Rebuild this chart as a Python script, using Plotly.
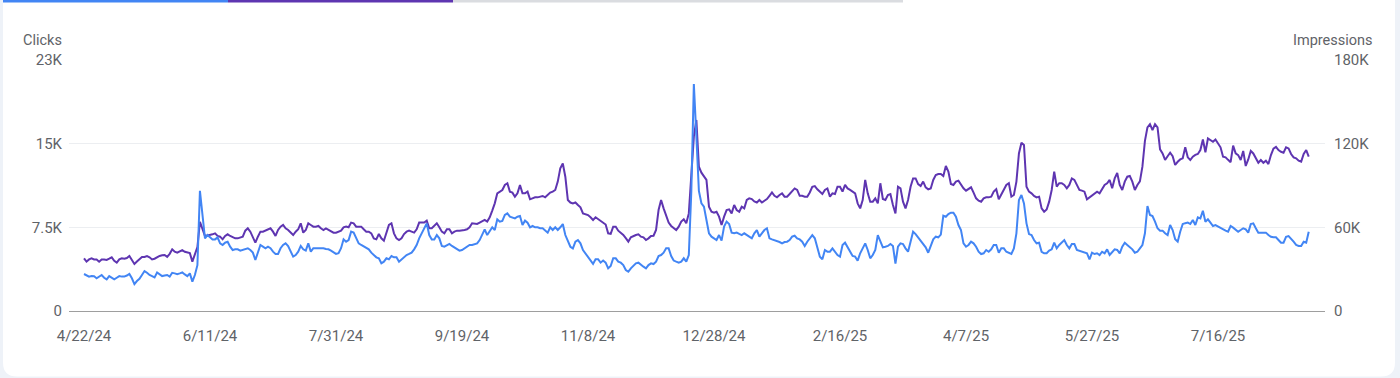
import pandas as pd
import plotly.graph_objects as go

start_date = "2024-04-22"

clicks = [
    3390, 3250, 3150, 3200, 3180, 3000, 3150, 3300, 3050, 2900,
    3200, 3050, 2900, 3050, 3200, 3150, 3150, 3250, 3400, 3000,
    2470, 2750, 2950, 3300, 3660, 3500, 3300, 3200, 3080, 3530,
    3350, 3200, 3250, 3300, 3150, 3500, 3450, 3380, 3450, 3530,
    3350, 3200, 3450, 2690, 3300, 4200, 11020, 8950, 6660, 6960,
    6740, 6560, 6560, 6740, 6200, 6050, 6260, 6350, 5900, 5590,
    5650, 5650, 5530, 5590, 5710, 5750, 5590, 5350, 4670, 5440,
    6050, 5900, 5750, 5900, 5750, 5440, 5230, 5230, 5750, 6050,
    6200, 5960, 5530, 4980, 5130, 5440, 5960, 5650, 5530, 6200,
    5440, 5750, 5750, 5750, 5750, 5750, 5680, 5650, 5530, 5350,
    5230, 5290, 5750, 6570, 6350, 6500, 7270, 7180, 6660, 6200,
    6050, 5900, 5810, 5650, 5350, 5130, 4920, 4830, 4370, 4520,
    4830, 4740, 5040, 4920, 4920, 4520, 4740, 4980, 5130, 5230,
    5350, 5650, 6050, 6660, 7120, 7670, 8030, 6960, 6560, 6560,
    6960, 6660, 5960, 5890, 6050, 6140, 5960, 5840, 5650, 5530,
    5590, 5740, 5960, 6050, 6050, 6140, 6200, 6500, 6960, 7480,
    6960, 7270, 7670, 7420, 8400, 8190, 8250, 8800, 8950, 8640,
    8580, 8490, 8640, 8700, 7880, 8280, 8090, 7670, 7790, 7670,
    7670, 7580, 7580, 7360, 7180, 7670, 7420, 7670, 7420, 7670,
    7970, 6960, 6350, 5890, 5740, 6350, 6500, 6200, 5590, 5290,
    4980, 4670, 4310, 4740, 4740, 4430, 4620, 4430, 3910, 4120,
    4830, 4830, 4520, 4430, 4210, 3760, 3600, 3910, 4120, 4370,
    4430, 4210, 4060, 3910, 4210, 4370, 4300, 4520, 5040, 5130,
    5340, 5740, 5740, 5040, 4620, 4520, 4430, 4520, 4830, 4520,
    5130, 11000, 20800, 16000, 11000, 9870, 9560, 8340, 7120, 6810,
    6660, 6500, 6960, 6450, 7730, 8190, 7970, 7180, 7120, 7180,
    7060, 6960, 7120, 6960, 6810, 6660, 7120, 7420, 6810, 7120,
    7420, 7580, 6660, 6560, 6500, 6410, 6320, 6200, 6320, 6350,
    6500, 6810, 6900, 6660, 6560, 6350, 5960, 6350, 6660, 6960,
    6660, 5890, 4980, 4740, 5590, 5440, 5440, 5740, 5440, 5130,
    4980, 6050, 6260, 5840, 5440, 5040, 4980, 4610, 5290, 5740,
    6200, 5590, 4830, 5130, 5590, 6960, 6350, 5840, 5890, 5960,
    6140, 5960, 4350, 5890, 6200, 6140, 5740, 5440, 6350, 7270,
    7050, 6750, 6440, 6200, 5840, 5340, 5960, 6560, 6810, 6750,
    7000, 8730, 8640, 8880, 9010, 9010, 8640, 7880, 7420, 6200,
    5890, 6050, 6350, 6200, 5890, 5430, 5220, 5290, 5590, 5430,
    5650, 6050, 6050, 5340, 5740, 5740, 5430, 5290, 5220, 5740,
    7120, 10170, 10630, 9860, 8030, 7050, 6960, 6500, 6200, 6260,
    5430, 5290, 5290, 5530, 5650, 6260, 5740, 6050, 6260, 6500,
    6050, 5740, 6140, 6140, 5590, 5530, 5430, 5340, 5290, 4740,
    5340, 5220, 5290, 5130, 5430, 5290, 5650, 5130, 5430, 5650,
    5590, 5290, 5890, 6260, 6050, 5890, 5650, 5340, 5430, 5740,
    6050, 7120, 9620, 8800, 8700, 8190, 7580, 7360, 7360, 7120,
    6960, 7880, 7420, 6570, 6350, 7270, 7970, 8050, 8100, 7970,
    8340, 7880, 8580, 8490, 9190, 8180, 8400, 8100, 7790, 7880,
    7730, 7580, 7480, 7360, 7270, 7790, 7640, 7420, 7270, 7420,
    7580, 7480, 7180, 7970, 8030, 7580, 7180, 7180, 7180, 7180,
    6960, 6800, 6750, 6750, 6510, 6260, 6260, 6800, 6870, 6650,
    6350, 6050, 5960, 5960, 6350, 6260, 7270,
]

impressions = [
    37800, 35400, 37000, 37800, 37000, 37000, 35400, 37000, 37000, 36600,
    37500, 38500, 36000, 34700, 37000, 37800, 37500, 38000, 39400, 36000,
    33700, 35500, 37000, 38700, 38700, 39400, 38500, 37000, 37500, 38700,
    39500, 40000, 40200, 38800, 41000, 44200, 42500, 41800, 42800, 43700,
    42500, 41800, 41500, 35400, 41400, 45900, 64000, 58100, 53800, 54200,
    54500, 55000, 55700, 53800, 53300, 51400, 53800, 55000, 53800, 52800,
    52100, 52100, 52800, 53300, 57600, 59300, 56900, 53300, 49000, 53300,
    56900, 56900, 57600, 58100, 59300, 56900, 53800, 58100, 60500, 61700,
    59300, 58100, 56200, 54500, 56900, 58600, 62900, 56200, 58100, 62900,
    61700, 60500, 60500, 61000, 59300, 58100, 59300, 58100, 56900, 56200,
    56200, 56700, 57600, 60000, 60500, 60000, 63400, 62900, 60500, 60500,
    60500, 58600, 56900, 56900, 55700, 52100, 51400, 55200, 52100, 50400,
    55700, 61700, 62900, 55700, 52100, 50900, 52100, 55200, 56900, 57600,
    56900, 56200, 58600, 63400, 63400, 63400, 64800, 59300, 59300, 61000,
    62900, 60000, 56900, 55700, 58600, 58600, 55700, 56900, 57600, 57600,
    57600, 58100, 58600, 60000, 62900, 62900, 62400, 63400, 64100, 65300,
    64100, 67200, 72000, 77200, 84400, 85600, 86800, 90400, 91600, 85600,
    84900, 82000, 84400, 90400, 84400, 84400, 85600, 80100, 80800, 81500,
    81500, 82000, 82500, 81500, 83200, 84900, 85600, 86800, 92800, 102300,
    105800, 96300, 79600, 77800, 77200, 77800, 76000, 74400, 70000, 69600,
    68800, 67200, 65300, 67200, 65800, 64500, 63500, 62000, 55700, 55300,
    60500, 60500, 57600, 56200, 54600, 52200, 49700, 52800, 53800, 54500,
    55000, 53300, 52800, 50900, 52100, 53800, 54000, 58100, 72400, 79600,
    73600, 67700, 63400, 61000, 59300, 58100, 60500, 64100, 65800, 62900,
    70000, 96300, 125000, 137000, 103500, 99200, 96800, 94000, 74800, 71200,
    70500, 71200, 67700, 61700, 67700, 72400, 72900, 70000, 76000, 72400,
    71200, 74800, 73600, 79600, 80800, 80300, 78600, 77800, 79600, 77800,
    79100, 80300, 82600, 85000, 82600, 81500, 83200, 84400, 82000, 82000,
    83900, 86300, 87900, 86800, 82600, 82600, 82000, 82000, 85000, 89100,
    89600, 87300, 85600, 83900, 86800, 87900, 82000, 84400, 83900, 89100,
    89100, 85600, 90400, 87900, 86800, 85600, 84400, 77200, 73600, 79600,
    94000, 84400, 78400, 78400, 80800, 77200, 91600, 80300, 79600, 83200,
    83900, 76000, 70000, 89100, 87900, 78400, 73600, 79600, 89100, 95100,
    95100, 91000, 89600, 92800, 88700, 87300, 87900, 94000, 97500, 98200,
    98300, 96800, 104000, 100000, 91100, 90400, 92800, 93500, 90400, 88000,
    86300, 87300, 88700, 84900, 80800, 79100, 78400, 80800, 81500, 81500,
    82000, 85600, 87300, 80100, 83900, 87300, 90400, 91600, 82000, 83200,
    92800, 113000, 120700, 119000, 89200, 85600, 84400, 82500, 81500, 82000,
    73600, 71200, 72800, 78400, 86800, 99900, 89200, 91600, 91600, 90400,
    88000, 90400, 95100, 94000, 90400, 86800, 86300, 85600, 80100, 81500,
    82500, 84400, 85600, 84400, 88000, 90400, 91600, 94000, 88000, 95100,
    99000, 90400, 86800, 92800, 96300, 96800, 92800, 86800, 90400, 93000,
    103500, 122000, 131700, 134000, 129700, 134000, 131700, 115900, 113000, 108300,
    111000, 113500, 111000, 104700, 107000, 108700, 109500, 117400, 110200, 108300,
    110700, 112000, 112600, 115400, 123000, 113800, 123700, 122500, 121300, 123000,
    119700, 117400, 110700, 110200, 108400, 106700, 118600, 113000, 111800, 108300,
    114800, 104000, 108700, 114800, 113000, 109500, 106300, 108300, 106300, 107800,
    105400, 111800, 116500, 117700, 115400, 114200, 113500, 117400, 116600, 112600,
    110200, 109500, 107800, 107100, 112600, 115400, 110700,
]

tick_labels = ["4/22/24", "6/11/24", "7/31/24", "9/19/24", "11/8/24",
               "12/28/24", "2/16/25", "4/7/25", "5/27/25", "7/16/25"]
clicks_ticks = [0, 23000 / 3, 46000 / 3, 23000]
clicks_tick_text = ["0", "7.5K", "15K", "23K"]
impr_ticks = [0, 60000, 120000, 180000]
impr_tick_text = ["0", "60K", "120K", "180K"]

dates_c = pd.date_range(start_date, periods=len(clicks), freq="D")
dates_i = pd.date_range(start_date, periods=len(impressions), freq="D")
tick_dates = pd.date_range(start_date, periods=len(tick_labels), freq="50D")

# layout geometry (pixels)
W, H = 1400, 378
PL, PR, PT, PB = 69, 1325, 60, 311


def px(xp):
    return (xp - PL) / (PR - PL)


def py(yp):
    return (PB - yp) / (PB - PT)


def rounded_rect(x0, y0, x1, y1, r):
    rx = r / (PR - PL)
    ry = r / (PB - PT)
    X0, X1 = px(x0), px(x1)
    Y0, Y1 = py(y0), py(y1)
    return (f"M {X0},{Y0} L {X1},{Y0} L {X1},{Y1 + ry} Q {X1},{Y1} {X1 - rx},{Y1} "
            f"L {X0 + rx},{Y1} Q {X0},{Y1} {X0},{Y1 + ry} Z")


fig = go.Figure()
fig.add_trace(go.Scatter(x=dates_i, y=impressions, mode="lines", yaxis="y",
                         line=dict(color="#5e35b1", width=2), name="Impressions",
                         hoverinfo="skip"))
fig.add_trace(go.Scatter(x=dates_c, y=clicks, mode="lines", yaxis="y2",
                         line=dict(color="#4285f4", width=2), name="Clicks",
                         hoverinfo="skip"))

font_col = "#5f6368"
TICK_SIZE = 15
TITLE_SIZE = 14.5
fig.update_layout(
    width=W, height=H,
    margin=dict(l=PL, r=W - PR, t=PT, b=H - PB, autoexpand=False),
    paper_bgcolor="#eef2f8",
    plot_bgcolor="rgba(0,0,0,0)",
    showlegend=False,
    font=dict(family="Roboto, Arial, sans-serif", size=TICK_SIZE, color=font_col),
    xaxis=dict(
        type="date",
        range=["2024-04-16 01:00", "2025-08-27 11:00"],
        tickvals=tick_dates, ticktext=tick_labels,
        showgrid=False, zeroline=False,
        showline=True, linecolor="#9e9e9e", linewidth=1,
        ticks="", ticklabelstandoff=11,
        tickfont=dict(size=TICK_SIZE, color=font_col),
    ),
    yaxis=dict(
        side="right", range=[0, 180000],
        tickvals=impr_ticks, ticktext=impr_tick_text,
        showgrid=True, gridcolor="#eceef1", gridwidth=1,
        zeroline=False, showline=False, ticks="", ticklabelstandoff=8,
        tickfont=dict(size=TICK_SIZE, color=font_col),
    ),
    yaxis2=dict(
        side="left", overlaying="y", range=[0, 23000],
        tickvals=clicks_ticks, ticktext=clicks_tick_text,
        showgrid=False, zeroline=False, showline=False, ticks="",
        ticklabelstandoff=6,
        tickfont=dict(size=TICK_SIZE, color=font_col),
    ),
    shapes=[
        dict(type="path", xref="paper", yref="paper", layer="below",
             path=rounded_rect(3, -20, 1395, 376.5, 14),
             fillcolor="#ffffff", line=dict(width=0)),
        dict(type="rect", xref="paper", yref="paper", layer="above",
             x0=px(3), x1=px(228), y0=py(2.5), y1=py(-1),
             fillcolor="#4285f4", line=dict(width=0)),
        dict(type="rect", xref="paper", yref="paper", layer="above",
             x0=px(228), x1=px(453), y0=py(2.5), y1=py(-1),
             fillcolor="#5e35b1", line=dict(width=0)),
        dict(type="rect", xref="paper", yref="paper", layer="above",
             x0=px(453), x1=px(903), y0=py(2.5), y1=py(-1),
             fillcolor="#dadce0", line=dict(width=0)),
    ],
    annotations=[
        dict(text="Clicks", xref="paper", yref="paper", x=px(63.5), y=py(40),
             xanchor="right", yanchor="middle", showarrow=False,
             font=dict(size=TITLE_SIZE, color=font_col)),
        dict(text="Impressions", xref="paper", yref="paper", x=px(1375), y=py(40),
             xanchor="right", yanchor="middle", showarrow=False,
             font=dict(size=TITLE_SIZE, color=font_col)),
    ],
)

fig.write_html("out.html")
